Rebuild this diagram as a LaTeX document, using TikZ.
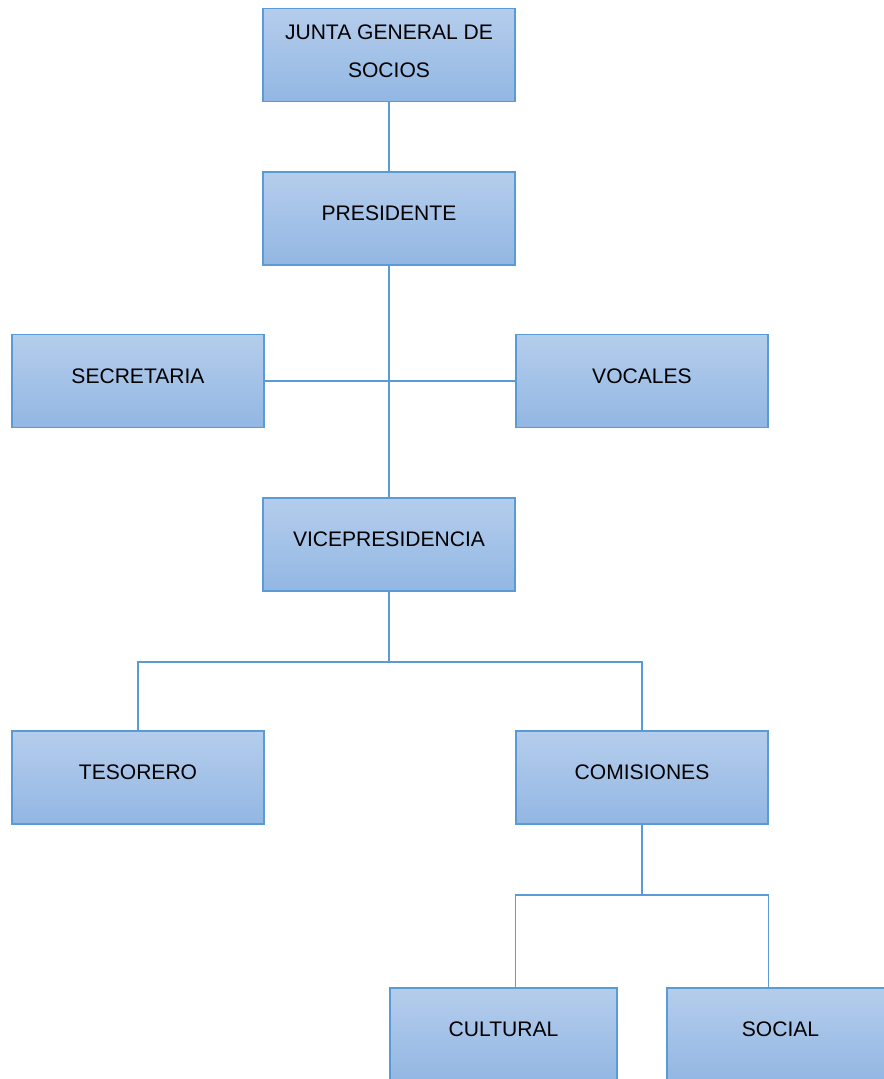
\documentclass[tikz,border=0pt]{standalone}
\usepackage{fontspec}
\setmainfont{Liberation Sans}
\definecolor{orgline}{RGB}{91,155,213}
\definecolor{orgtop}{RGB}{181,205,236}
\definecolor{orgbot}{RGB}{146,183,227}

\begin{document}
\begin{tikzpicture}[x=0.75pt, y=-0.75pt,
  cargo/.style={draw=orgline, line width=0.8pt, top color=orgtop, bottom color=orgbot,
    minimum width=189pt, minimum height=69.75pt, inner sep=0pt,
    font=\fontsize{15.8}{19}\selectfont, text height=11.5pt, text depth=8.4pt},
  angosto/.style={minimum width=170.25pt},
  enlace/.style={draw=orgline, line width=1pt}]
\useasboundingbox (0,0) rectangle (884,1079);
\node[cargo, align=center, font=\fontsize{15.8}{28.5}\selectfont, text height=40pt, text depth=6.2pt] (junta) at (389,55) {JUNTA GENERAL DE\\SOCIOS};
\node[cargo] (pres) at (389,218.5) {PRESIDENTE};
\node[cargo] (secr) at (138,381) {SECRETARIA};
\node[cargo] (voc) at (642,381) {VOCALES};
\node[cargo] (vice) at (389,544.5) {VICEPRESIDENCIA};
\node[cargo] (teso) at (138,777.5) {TESORERO};
\node[cargo] (comi) at (642,777.5) {COMISIONES};
\node[cargo, angosto] (cult) at (503.5,1034.5) {CULTURAL};
\node[cargo, angosto] (soc) at (780.5,1034.5) {SOCIAL};
\coordinate (j1) at (389,662);
\coordinate (j2) at (642,895);
\draw[enlace] (junta) -- (pres);
\draw[enlace] (pres) -- (vice);
\draw[enlace] (secr) -- (voc);
\draw[enlace] (vice) -- (j1);
\draw[enlace] (teso.north) |- (j1) -| (comi.north);
\draw[enlace] (comi) -- (j2);
\draw[enlace] (cult.north -| comi.west) |- (j2) -| (soc.north -| comi.east);
\end{tikzpicture}
\end{document}
